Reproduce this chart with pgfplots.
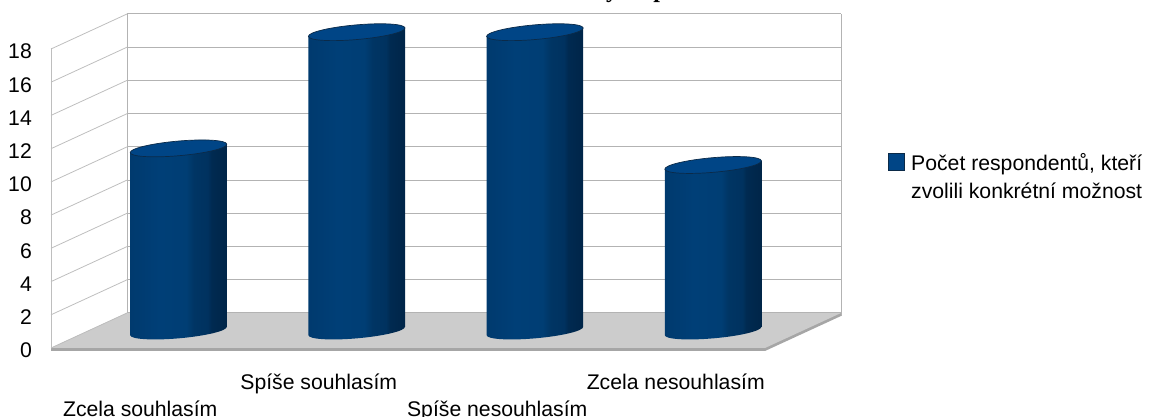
\documentclass[border=0pt]{standalone}
\usepackage{fontspec}
\setmainfont{Liberation Sans}
\newfontfamily\serifb{Liberation Serif}
\usepackage{pgfplots}
\usepackage{pgfplotstable}
\pgfplotsset{compat=1.18}
\definecolor{gridc}{HTML}{B3B3B3}
\definecolor{gridl}{HTML}{BEBEBE}
\definecolor{floorc}{HTML}{CCCCCC}
\definecolor{floord}{HTML}{A6A6A6}
\definecolor{capc}{HTML}{004586}
\definecolor{cape}{HTML}{0B2A48}
\pgfdeclarehorizontalshading{cyl}{100bp}{
 rgb(0bp)=(0.0,0.227,0.431);
 rgb(25bp)=(0.0,0.227,0.431);
 rgb(40bp)=(0.0,0.247,0.467);
 rgb(54bp)=(0.0,0.243,0.455);
 rgb(58bp)=(0.0,0.208,0.392);
 rgb(65bp)=(0.0,0.196,0.373);
 rgb(67bp)=(0.0,0.165,0.318);
 rgb(75bp)=(0.0,0.145,0.282);
 rgb(100bp)=(0.0,0.145,0.282)}
\pgfdeclareplotmark{cylinder}{%
  \pgfmathsetlengthmacro{\cylh}{\rawv*16.6pt}%
  \begin{pgfscope}
  \pgfpathmoveto{\pgfqpoint{-48.3pt}{\dimexpr-4.23pt-\cylh\relax}}%
  \pgfpathlineto{\pgfqpoint{48.3pt}{\dimexpr4.23pt-\cylh\relax}}%
  \pgfpathlineto{\pgfqpoint{48.3pt}{4.23pt}}%
  \pgfpathlineto{\pgfqpoint{-48.3pt}{-4.23pt}}%
  \pgfpathclose
  \pgfpathellipse{\pgfqpoint{0pt}{-\cylh}}{\pgfqpoint{48.3pt}{4.23pt}}{\pgfqpoint{-0.64pt}{7.3pt}}%
  \pgfshadepath{cyl}{0}%
  \pgfusepath{discard}%
  \end{pgfscope}
  \pgfsetfillcolor{capc}\pgfsetstrokecolor{cape}\pgfsetlinewidth{0.7pt}%
  \pgfpathellipse{\pgfqpoint{0pt}{0pt}}{\pgfqpoint{48.3pt}{4.23pt}}{\pgfqpoint{-0.64pt}{7.3pt}}%
  \pgfusepath{fill,stroke}%
}
\pgfplotstableread{
pos value
0 11
1 18
2 18
3 10
}\answers
\newcommand{\chartfont}{\fontsize{21.2}{28.5}\selectfont}
\begin{document}
\begin{tikzpicture}
\useasboundingbox (0,0) rectangle (1151pt,417pt);
% canvas axis in pixels: walls, floor, legend
\begin{axis}[at={(0,0)},anchor=south west,scale only axis,width=1151pt,height=417pt,
  xmin=0,xmax=1151,ymin=0,ymax=417,axis lines=none,clip=false,
  legend style={at={(axis cs:885,264)},anchor=north west,draw=none,fill=none,inner sep=0pt,
    font=\chartfont,nodes={align=left,inner sep=0pt},legend cell align=left},
  legend image code/.code={\path[draw=none] (0pt,0pt) -- (26pt,0pt);\fill[capc,draw=cape,line width=0.7pt] (3pt,6.5pt) rectangle (19.5pt,23pt);}]
\addplot[fill=floord,draw=none,forget plot] coordinates {(51,69)(51,66)(765,66)(841,101)(841,104)(127,104)};
\addplot[fill=floorc,draw=none,forget plot] coordinates {(51,69)(765,69)(841,104)(127,104)};
\addplot[gridl,line width=0.8pt,forget plot] coordinates {(51,69)(51,369)};
\addplot[gridc,line width=1pt,forget plot] coordinates {(127,104)(127,403)};
\addplot[gridc,line width=1pt,forget plot] coordinates {(841,101)(841,403)};
\addplot[gridc,line width=1pt,forget plot] coordinates {(127,104)(841,104)};
\addplot[gridl,line width=0.8pt,forget plot] coordinates {(51,69)(127,104)};
\addplot[gridl,line width=0.8pt,forget plot] coordinates {(51,102.2)(127,137.2)};
\addplot[gridc,line width=1pt,forget plot] coordinates {(127,137.2)(841,137.2)};
\addplot[gridl,line width=0.8pt,forget plot] coordinates {(51,135.4)(127,170.4)};
\addplot[gridc,line width=1pt,forget plot] coordinates {(127,170.4)(841,170.4)};
\addplot[gridl,line width=0.8pt,forget plot] coordinates {(51,168.7)(127,203.7)};
\addplot[gridc,line width=1pt,forget plot] coordinates {(127,203.7)(841,203.7)};
\addplot[gridl,line width=0.8pt,forget plot] coordinates {(51,201.9)(127,236.9)};
\addplot[gridc,line width=1pt,forget plot] coordinates {(127,236.9)(841,236.9)};
\addplot[gridl,line width=0.8pt,forget plot] coordinates {(51,235.1)(127,270.1)};
\addplot[gridc,line width=1pt,forget plot] coordinates {(127,270.1)(841,270.1)};
\addplot[gridl,line width=0.8pt,forget plot] coordinates {(51,268.3)(127,303.3)};
\addplot[gridc,line width=1pt,forget plot] coordinates {(127,303.3)(841,303.3)};
\addplot[gridl,line width=0.8pt,forget plot] coordinates {(51,301.6)(127,336.6)};
\addplot[gridc,line width=1pt,forget plot] coordinates {(127,336.6)(841,336.6)};
\addplot[gridl,line width=0.8pt,forget plot] coordinates {(51,334.8)(127,369.8)};
\addplot[gridc,line width=1pt,forget plot] coordinates {(127,369.8)(841,369.8)};
\addplot[gridl,line width=0.8pt,forget plot] coordinates {(51,368)(127,403)};
\addplot[gridc,line width=1pt,forget plot] coordinates {(127,403)(841,403)};
\addlegendimage{}
\addlegendentry{Počet respondentů, kteří\\zvolili konkrétní možnost}
\node[font=\serifb\bfseries\fontsize{24}{24}\selectfont,anchor=base] at (axis cs:612,419.5) {y};
\node[font=\serifb\bfseries\fontsize{24}{24}\selectfont,anchor=base] at (axis cs:660,419.5) {p};
\end{axis}
% front plane axis: tick labels
\begin{axis}[at={(51pt,69pt)},anchor=south west,scale only axis,width=714pt,height=299pt,
  xmin=-0.5,xmax=3.5,ymin=0,ymax=18,ytick={0,2,...,18},xtick={0,1,2,3},
  xticklabels={{\rule{0pt}{68pt}Zcela souhlasím},{\rule{0pt}{41pt}Spíše souhlasím},{\rule{0pt}{68pt}Spíše nesouhlasím},{\rule{0pt}{41pt}Zcela nesouhlasím}},
  axis line style={draw=none},major tick length=0pt,tick style={draw=none},
  /pgf/number format/assume math mode=true,
  yticklabel style={font=\chartfont,anchor=east,inner sep=0pt,xshift=-19pt,yshift=-2.5pt},
  xticklabel style={font=\chartfont,anchor=north,inner sep=0pt,yshift=0pt},
  clip=false]
\addplot[draw=none,forget plot] coordinates {(0,0)(3,18)};
\end{axis}
% cylinders, on the mid-depth plane
\begin{axis}[at={(178.5pt,86pt)},anchor=south west,scale only axis,width=534.6pt,height=298.8pt,
  xmin=0,xmax=3,ymin=0,ymax=18,axis lines=none,clip=false]
\addplot[scatter,only marks,mark=cylinder,scatter src=y,
  visualization depends on={\thisrow{value}\as\rawv}] table[x=pos,y=value] {\answers};
\end{axis}
\end{tikzpicture}
\end{document}
